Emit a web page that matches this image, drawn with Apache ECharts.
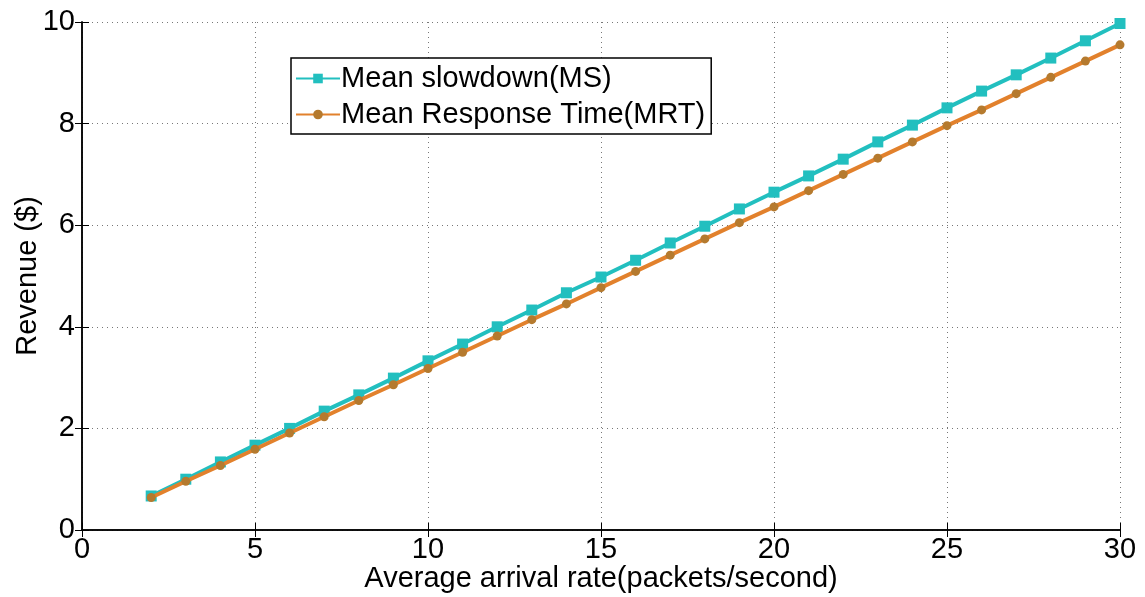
<!DOCTYPE html>
<html><head><meta charset="utf-8">
<script src="https://cdn.jsdelivr.net/npm/echarts@6/dist/echarts.min.js"></script>
<style>html,body{margin:0;padding:0;background:#fff}#c{width:1145px;height:597px}</style>
</head><body><div id="c"></div>
<script>
const xValues = [2,3,4,5,6,7,8,9,10,11,12,13,14,15,16,17,18,19,20,21,22,23,24,25,26,27,28,29,30];
const msValues = [0.67,1.00,1.34,1.67,2.00,2.34,2.66,2.99,3.33,3.66,4.00,4.33,4.67,4.98,5.31,5.65,5.98,6.32,6.65,6.97,7.30,7.64,7.97,8.31,8.64,8.96,9.29,9.63,9.97];
const mrtValues = [0.64,0.96,1.27,1.59,1.91,2.23,2.55,2.86,3.18,3.50,3.82,4.14,4.45,4.77,5.09,5.41,5.73,6.05,6.36,6.68,7.00,7.32,7.64,7.96,8.27,8.59,8.91,9.23,9.55];
const seriesNames = ['Mean slowdown(MS)','Mean Response Time(MRT)'];
const xTitle = 'Average arrival rate(packets/second)';
const yTitle = 'Revenue ($)';

const font = 'Liberation Sans, Arial, sans-serif';
const fs = 29;
const chart = echarts.init(document.getElementById('c'));
const axisLine = {show:true, lineStyle:{color:'#000', width:1.5}};
const tick = {show:true, inside:true, length:7, lineStyle:{color:'#000', width:1}};
const grid = {show:true, lineStyle:{color:'#777', type:[1,4], width:1}};
chart.setOption({
  animation:false,
  grid:{left:82, right:25, top:22, bottom:67, containLabel:false, outerBoundsMode:'none'},
  legend:{
    orient:'vertical', left:291, top:58, data:seriesNames,
    backgroundColor:'#fff', borderColor:'#000', borderWidth:1.5, borderRadius:0,
    padding:[6,6,5,4], itemWidth:44, itemHeight:12, itemGap:7,
    textStyle:{fontFamily:font, fontSize:fs, color:'#000', padding:[0,0,0,-4]}
  },
  xAxis:[{
    type:'value', min:0, max:30, interval:5,
    name:xTitle, nameLocation:'middle', nameGap:34, nameMoveOverlap:false,
    nameTextStyle:{fontFamily:font, fontSize:fs, color:'#000'},
    axisLine:axisLine, axisTick:tick, splitLine:grid,
    axisLabel:{fontFamily:font, fontSize:fs, color:'#000', margin:5}
  },{
    type:'value', position:'top', min:0, max:30, interval:5,
    axisLine:axisLine, axisTick:tick, splitLine:{show:false}, axisLabel:{show:false}
  }],
  yAxis:[{
    type:'value', min:0, max:10, interval:2,
    name:yTitle, nameLocation:'middle', nameGap:40, nameRotate:90, nameMoveOverlap:false,
    nameTextStyle:{fontFamily:font, fontSize:fs, color:'#000'},
    axisLine:axisLine, axisTick:tick, splitLine:grid,
    axisLabel:{fontFamily:font, fontSize:fs, color:'#000', margin:7}
  },{
    type:'value', position:'right', min:0, max:10, interval:2,
    axisLine:axisLine, axisTick:tick, splitLine:{show:false}, axisLabel:{show:false}
  }],
  series:[{
    name:seriesNames[0], type:'line', data:xValues.map((x,i)=>[x,msValues[i]]),
    symbol:'rect', symbolSize:11, z:3,
    lineStyle:{color:'#22bfbf', width:4}, itemStyle:{color:'#22bfbf'}
  },{
    name:seriesNames[1], type:'line', data:xValues.map((x,i)=>[x,mrtValues[i]]),
    symbol:'circle', symbolSize:9, z:4,
    lineStyle:{color:'#e2812c', width:4}, itemStyle:{color:'#b57a2e'}
  }]
});
</script></body></html>
